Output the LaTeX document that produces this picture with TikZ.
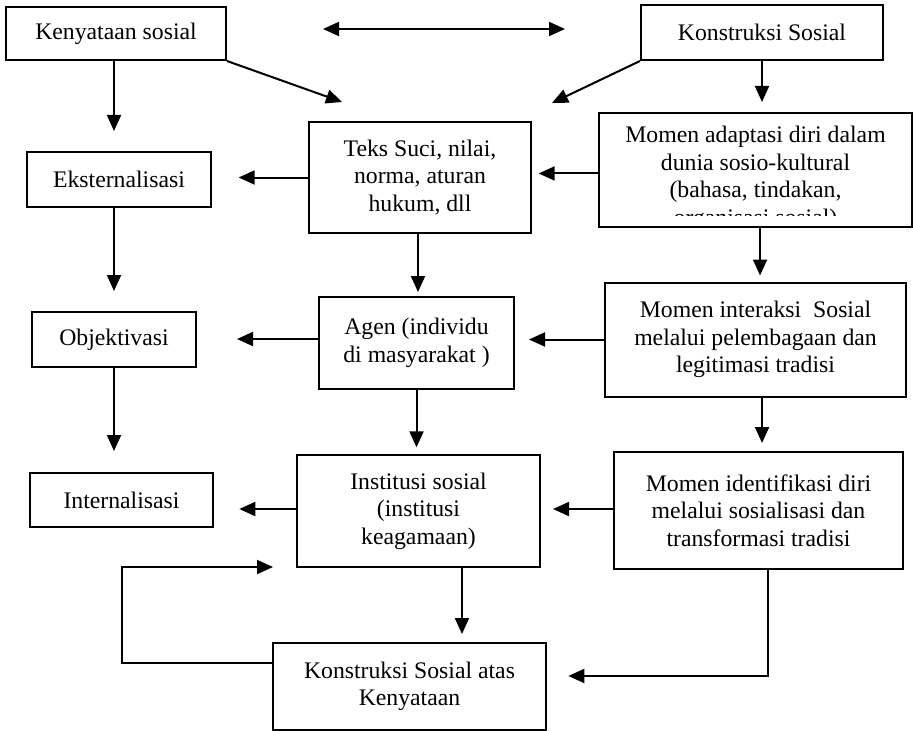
\documentclass[tikz,border=0pt]{standalone}
\usepackage{fontspec}
\setmainfont{Liberation Serif}
\usetikzlibrary{arrows.meta,calc}

\begin{document}
\begin{tikzpicture}[
  x=0.75pt, y=-0.75pt,
  font=\fontsize{17.8}{20.6}\selectfont,
  >={Triangle[length=12pt,width=10.5pt]},
  kotak/.style={draw, line width=1.5pt, align=center, inner sep=0pt},
  arrow/.style={->, line width=1.5pt}
]
\useasboundingbox (0,0) rectangle (913,731);

% left column
\node[kotak, minimum width=165pt, minimum height=39.75pt] (kenyataan) at (116,33.5) {Kenyataan sosial};
\node[kotak, minimum width=138pt, minimum height=41.25pt] (ekst) at (119,179.5) {Eksternalisasi};
\node[kotak, minimum width=123pt, minimum height=41.25pt] (obj) at (114,339.5) {Objektivasi};
\node[kotak, minimum width=137.25pt, minimum height=40.5pt] (inter) at (121.5,500) {Internalisasi};

% middle column
\node[kotak, minimum width=166.5pt, minimum height=83.25pt] (teks) at (420,177.5) {Teks Suci, nilai,\\norma, aturan\\hukum, dll};
\node[kotak, minimum width=146.25pt, minimum height=69pt] (agen) at (416.5,343) {Agen (individu\\di masyarakat )};
\node[kotak, minimum width=182.25pt, minimum height=84pt] (inst) at (418.5,511) {Institusi sosial\\(institusi\\keagamaan)};
\node[kotak, minimum width=204.75pt, minimum height=65.25pt] (ksk) at (409.5,686.5) {Konstruksi Sosial atas\\Kenyataan};

% right column
\node[kotak, minimum width=181.5pt, minimum height=41.25pt] (konstruksi) at (762,32.5) {Konstruksi Sosial};
\node[kotak, minimum width=234.75pt, minimum height=85.5pt] (adapt) at (755.5,170) {};
\begin{scope}
  \clip (adapt.north west) rectangle ($(adapt.south east)+(0,-13)$);
  \node[align=center] (adapttext) at (755.5,178.5) {Momen adaptasi diri dalam\\dunia sosio-kultural\\(bahasa, tindakan,\\organisasi sosial)};
\end{scope}
\node[kotak, minimum width=225.75pt, minimum height=85.5pt] (mint) at (755.5,339.5) {Momen interaksi\ \ Sosial\\melalui pelembagaan dan\\legitimasi tradisi};
\node[kotak, minimum width=216.75pt, minimum height=87.75pt] (ident) at (758.5,510.5) {Momen identifikasi diri\\melalui sosialisasi dan\\transformasi tradisi};

% free ends
\coordinate (kiri) at (323,29);
\coordinate (kanan) at (565,29);
\coordinate (tujuankiri) at (342,102);
\coordinate (tujuankanan) at (552,103);
\coordinate (balik) at (273,567);

% top
\draw[arrow,<->] (kiri) -- (kanan);
\draw[arrow] (kenyataan.south east) -- (tujuankiri);
\draw[arrow] (konstruksi.south west) -- (tujuankanan);

% downwards
\draw[arrow, shorten >=15pt] ([xshift=-1.5pt]kenyataan.south) -- ([xshift=-1.5pt]kenyataan.south |- ekst.north);
\draw[arrow, shorten >=15pt] ([xshift=-3.75pt]ekst.south) -- ([xshift=-3.75pt]ekst.south |- obj.north);
\draw[arrow, shorten >=15.75pt] (obj.south) -- (obj.south |- inter.north);
\draw[arrow, shorten >=3pt] ([xshift=-1.5pt]teks.south) -- ([xshift=-1.5pt]teks.south |- agen.north);
\draw[arrow, shorten >=5pt] (agen.south) -- (agen.south |- inst.north);
\draw[arrow, shorten >=6pt] ([xshift=32.6pt]inst.south) -- ([xshift=32.6pt]inst.south |- ksk.north);
\draw[arrow, shorten >=7.5pt] (konstruksi.south) -- (konstruksi.south |- adapt.north);
\draw[arrow, shorten >=4.5pt] ([xshift=3.4pt]adapt.south) -- ([xshift=3.4pt]adapt.south |- mint.north);
\draw[arrow, shorten >=6pt] ([xshift=4.9pt]mint.south) -- ([xshift=4.9pt]mint.south |- ident.north);

% leftwards
\draw[arrow, shorten >=20pt] (teks.west) -- (teks.west -| ekst.east);
\draw[arrow, shorten >=30pt] ([yshift=3pt]agen.west) -- ([yshift=3pt]agen.west -| obj.east);
\draw[arrow, shorten >=19pt] ([yshift=1.5pt]inst.west) -- ([yshift=1.5pt]inst.west -| inter.east);
\draw[arrow, shorten >=5pt] ([yshift=-2.6pt]adapt.west) -- ([yshift=-2.6pt]adapt.west -| teks.east);
\draw[arrow, shorten >=10.5pt] (mint.west) -- (mint.west -| agen.east);
\draw[arrow, shorten >=9pt] ([yshift=1.1pt]ident.west) -- ([yshift=1.1pt]ident.west -| inst.east);

% bottom
\draw[arrow, shorten >=16pt] ([xshift=6.75pt]ident.south) |- ([yshift=7.9pt]ksk.east);
\draw[arrow] ([yshift=17.6pt]ksk.west) -- ++(-150,0) |- (balik);
\end{tikzpicture}
\end{document}
